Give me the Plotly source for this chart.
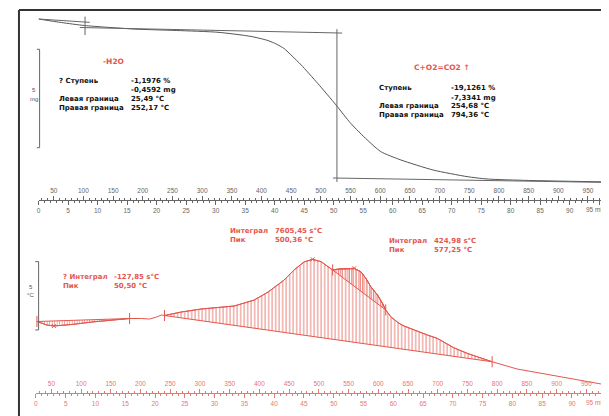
import plotly.graph_objects as go

W, H = 609, 416
OFF = 8  # page body margin of the written html

# ---------------- data ----------------
# TG curve (top): time in minutes, mass in mg
tg_time = [0, 3.9, 7.8, 16.3, 23.4, 30.4, 36.0, 38.9, 40.25, 41.6, 42.96, 44.5, 47.3, 50.4, 52.9,
           55.7, 58.0, 61.4, 66.9, 72.6, 76.0, 83.8, 96.8]
tg_mass = [38.35, 38.17, 38.02, 37.84, 37.77, 37.68, 37.47, 37.26, 37.09, 36.86, 36.48, 36.03, 35.10,
           34.01, 33.08, 32.24, 31.65, 31.23, 30.72, 30.39, 30.27, 30.19, 30.12]

# TG step-evaluation construction lines (time min, mass mg)
tan1_t, tan1_m = [0, 8.67], [38.35, 38.18]
cross1_t, cross1_m = [7.87, 7.87], [38.47, 37.54]
tan2_t, tan2_m = [6.98, 51.44], [37.92, 37.64]
vert_t, vert_m = [50.56, 50.56], [37.84, 30.12]
tan3_t, tan3_m = [49.88, 97.5], [30.32, 30.09]

# DTA curve (bottom): time in minutes, signal in scale units
dta_time = [0.17, 1.84, 3.01, 6.02, 9.37, 12.72, 15.73, 17.74, 19.08, 20.25, 21.08, 21.59,
            24.43, 27.78, 33.30, 36.65, 38.99, 41.67, 43.34, 45.01, 46.47, 47.86, 49.82,
            50.92, 52.59, 53.43, 54.55, 55.39, 56.22, 57.35, 58.18, 58.73, 59.57, 60.96,
            61.80, 63.47, 65.71, 67.39, 68.49, 70.16, 72.41, 74.63, 76.59, 80.77, 86.35,
            91.92, 95.83]
dta_val = [0.11, -0.15, -0.22, -0.11, 0.07, 0.22, 0.33, 0.33, 0.29, 0.44, 0.59, 0.55,
           0.81, 1.03, 1.25, 1.69, 2.28, 3.16, 3.90, 4.49, 4.68, 4.51, 3.90,
           3.97, 3.97, 4.02, 3.77, 3.29, 2.67, 2.06, 1.45, 0.96, 0.46, -0.02,
           -0.22, -0.51, -0.88, -1.13, -1.38, -1.82, -2.23, -2.55, -2.85, -3.38, -3.82,
           -4.26, -4.56]
# integration limits (min) and peak times (min)
integ_limits = [(0.17, 15.73), (21.59, 76.59), (49.82, 58.73)]
peak_times = [3.01, 46.47, 53.43]

minute_ticks = list(range(0, 100, 5))
minute_labels = [str(v) for v in minute_ticks[:-1]] + [""]
temp_ticks = list(range(50, 1000, 50))
temp_labels = [str(v) for v in temp_ticks]

# ---------------- helpers ----------------
RED = "#e4574e"
HATCH = "rgba(226,96,86,0.75)"
GREY = "#555555"


def px(x):
    return (x - OFF) / W


def py(y):
    return 1 - (y - OFF) / H


fig = go.Figure()

# TG curve + construction lines
fig.add_trace(go.Scatter(x=tg_time, y=tg_mass, mode="lines",
                         line=dict(color="#555", width=1, shape="spline", smoothing=0.6),
                         xaxis="x", yaxis="y", hoverinfo="skip"))
for tt, mm in [(tan1_t, tan1_m), (cross1_t, cross1_m), (tan2_t, tan2_m), (vert_t, vert_m), (tan3_t, tan3_m)]:
    fig.add_trace(go.Scatter(x=tt, y=mm, mode="lines", line=dict(color="#666", width=1),
                             xaxis="x", yaxis="y", hoverinfo="skip"))

# DTA hatched integration regions
val_at = dict(zip(dta_time, dta_val))
sizes = [2.5, 3.5, 2.2]
for (a, b), sz in zip(integ_limits, sizes):
    seg_t = [t for t in dta_time if a <= t <= b]
    seg_v = [val_at[t] for t in seg_t]
    fig.add_trace(go.Scatter(x=[a, b], y=[val_at[a], val_at[b]], mode="lines",
                             line=dict(color=RED, width=1), xaxis="x3", yaxis="y2", hoverinfo="skip"))
    fig.add_trace(go.Scatter(x=seg_t, y=seg_v, mode="lines", line=dict(color=RED, width=1),
                             fill="tonexty", fillcolor="rgba(0,0,0,0)",
                             fillpattern=dict(shape="|", size=sz, solidity=0.3, fgcolor=HATCH,
                                              bgcolor="rgba(0,0,0,0)", fillmode="replace"),
                             xaxis="x3", yaxis="y2", hoverinfo="skip"))

fig.add_trace(go.Scatter(x=dta_time, y=dta_val, mode="lines", line=dict(color=RED, width=1),
                         xaxis="x3", yaxis="y2", hoverinfo="skip"))

# limit ticks and peak marks
lim_t = sorted(set([a for a, b in integ_limits] + [b for a, b in integ_limits]))
fig.add_trace(go.Scatter(x=lim_t, y=[val_at[t] for t in lim_t], mode="markers",
                         marker=dict(symbol="line-ns-open", size=8, color=RED, line=dict(color=RED, width=1)),
                         xaxis="x3", yaxis="y2", hoverinfo="skip"))
fig.add_trace(go.Scatter(x=peak_times, y=[val_at[t] for t in peak_times], mode="markers",
                         marker=dict(symbol="x-thin-open", size=4, color=RED, line=dict(color=RED, width=1)),
                         xaxis="x3", yaxis="y2", hoverinfo="skip"))

# invisible traces so the temperature scales are drawn
fig.add_trace(go.Scatter(x=[temp_ticks[0]], y=[None], xaxis="x2", yaxis="y", mode="markers",
                         opacity=0, hoverinfo="skip"))
fig.add_trace(go.Scatter(x=[temp_ticks[0]], y=[None], xaxis="x4", yaxis="y2", mode="markers",
                         opacity=0, hoverinfo="skip"))

# ---------------- annotations ----------------
ann = []


def txt(s, x, y, color="#111", size=7, bold=True, xanchor="left", family="DejaVu Sans"):
    ann.append(dict(text=("<b>%s</b>" % s) if bold else s, x=px(x), y=py(y), xref="paper", yref="paper",
                    xanchor=xanchor, yanchor="middle", showarrow=False,
                    font=dict(family=family, size=size, color=color)))


for s, x, y in [("? Ступень", 55, 81), ("-1,1976 %", 127.7, 81), ("-0,4592 mg", 127.7, 90.3),
                ("Левая граница", 55, 99), ("25,49 °C", 127.7, 99),
                ("Правая граница", 55, 108.3), ("252,17 °C", 127.7, 108.3),
                ("Ступень", 376.7, 88.3), ("-19,1261 %", 448.3, 88.3), ("-7,3341 mg", 448.3, 97.7),
                ("Левая граница", 376.7, 106), ("254,68 °C", 448.3, 106),
                ("Правая граница", 376.7, 115), ("794,36 °C", 448.3, 115)]:
    txt(s, x, y)

txt("-H2O", 99, 61.7, color=RED, size=7.5)
txt("C+O2=CO2 ↑", 411.7, 67.7, color=RED, size=7.5)

for s, x, y in [("? Интеграл", 59.3, 276.7), ("-127,85 s°C", 110.7, 276.7),
                ("Пик", 59.3, 285.7), ("50,50 °C", 110.7, 285.7),
                ("Интеграл", 226.7, 231), ("7605,45 s°C", 271.7, 231),
                ("Пик", 226.7, 240), ("500,36 °C", 271.7, 240),
                ("Интеграл", 386, 240.7), ("424,98 s°C", 431, 240.7),
                ("Пик", 386, 250), ("577,25 °C", 431, 250)]:
    txt(s, x, y, color=RED)

txt("5", 32.3, 90, color=GREY, size=6, bold=False, xanchor="center", family="Liberation Sans")
txt("mg", 32.3, 99, color=GREY, size=6, bold=False, xanchor="center", family="Liberation Sans")
txt("5", 29, 287, color=GREY, size=6, bold=False, xanchor="center", family="Liberation Sans")
txt("°C", 29, 294.5, color=GREY, size=6, bold=False, xanchor="center", family="Liberation Sans")

# last minute label of each ruler, kept inside the page
txt("95 min", 607.5, 209.5, color="#666", size=6.5, bold=False, xanchor="right", family="Liberation Sans")
txt("95 min", 607.5, 402.5, color="#e8776d", size=6.5, bold=False, xanchor="right", family="Liberation Sans")

# ---------------- shapes ----------------
shapes = [
    dict(type="line", xref="paper", yref="paper", x0=px(17), x1=1, y0=py(10), y1=py(10),
         line=dict(color="#333", width=2)),
    dict(type="line", xref="paper", yref="paper", x0=px(17), x1=px(17), y0=py(10), y1=0,
         line=dict(color="#333", width=2)),
    # 5 mg scale bar
    dict(type="path", xref="paper", yref="y",
         path="M %f,%f L %f,%f L %f,%f L %f,%f" % (px(35), 36.82, px(37.7), 36.82, px(37.7), 31.85, px(35), 31.85),
         line=dict(color="#666", width=1)),
    # 5 unit DTA scale bar
    dict(type="path", xref="paper", yref="y2",
         path="M %f,%f L %f,%f L %f,%f L %f,%f" % (px(33.3), 4.51, px(36.7), 4.51, px(36.7), -0.51, px(33.3), -0.51),
         line=dict(color="#666", width=1)),
]


# ---------------- axes ----------------
def ruler(color, rng, dom, pos, tickvals, ticktext, side, minor_dtick, showline):
    return dict(range=rng, domain=dom, anchor="free", position=pos, side=side,
                tickmode="array", tickvals=tickvals, ticktext=ticktext,
                ticks="outside", ticklen=4, tickwidth=1, tickcolor=color,
                minor=dict(tickmode="linear", tick0=0, dtick=minor_dtick, ticks="outside",
                           ticklen=2, tickwidth=1, tickcolor=color),
                showline=showline, linecolor=color, linewidth=1, showgrid=False, zeroline=False,
                tickfont=dict(family="Liberation Sans", size=6.5, color=color), ticklabelstandoff=0)


top_dom = [px(36.7), 1]
bot_dom = [px(34.0), 1]
top_pos = py(200)
bot_pos = py(393)
t_top_end = (W + OFF - 36.7) / 5.92
t_bot_end = (W + OFF - 34.0) / 5.976

layout = dict(
    width=W, height=H, margin=dict(l=0, r=0, t=0, b=0),
    paper_bgcolor="white", plot_bgcolor="white", showlegend=False,
    xaxis=ruler("#666", [0, t_top_end], top_dom, top_pos, minute_ticks, minute_labels, "bottom", 1, True),
    xaxis2=ruler("#666", [24.5, 24.5 + 9.94 * t_top_end], top_dom, top_pos, temp_ticks, temp_labels, "top", 10, False),
    xaxis3=ruler("#e8776d", [0, t_bot_end], bot_dom, bot_pos, minute_ticks, minute_labels, "bottom", 1, True),
    xaxis4=ruler("#e8776d", [24.0, 24.0 + 10.02 * t_bot_end], bot_dom, bot_pos, temp_ticks, temp_labels, "top", 10, False),
    yaxis=dict(domain=[0.5, 1], range=[38.35 - (216 - 19) / 19.8, 38.35 + (19 - 8) / 19.8], visible=False),
    yaxis2=dict(domain=[0, 0.5], range=[(323 - 424) / 13.6, (323 - 216) / 13.6], visible=False),
    annotations=ann, shapes=shapes,
)
layout["xaxis2"]["overlaying"] = "x"
layout["xaxis4"]["overlaying"] = "x3"

fig.update_layout(**layout)
fig.write_html("out.html")
